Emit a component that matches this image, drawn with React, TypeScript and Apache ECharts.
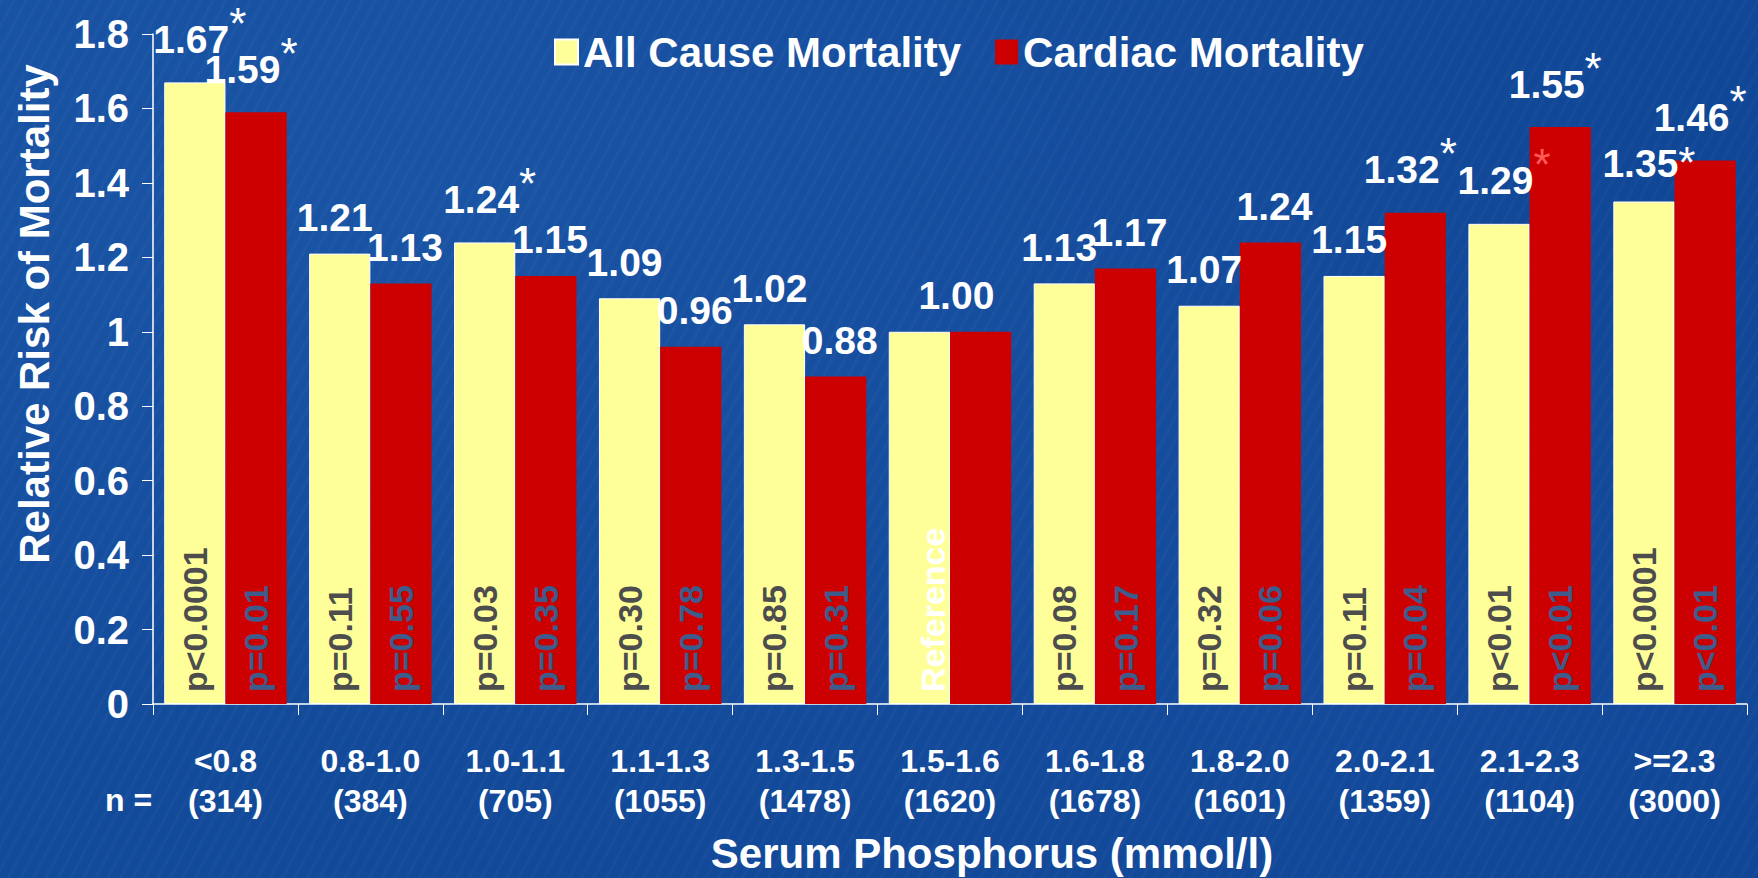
import React, { useEffect, useRef } from 'react';
import * as echarts from 'echarts';

const FONT = '"Liberation Sans", Arial, Helvetica, sans-serif';

const categories = ['<0.8', '0.8-1.0', '1.0-1.1', '1.1-1.3', '1.3-1.5', '1.5-1.6', '1.6-1.8', '1.8-2.0', '2.0-2.1', '2.1-2.3', '>=2.3'];
const counts = ['314', '384', '705', '1055', '1478', '1620', '1678', '1601', '1359', '1104', '3000'];
const allCause = [1.67, 1.21, 1.24, 1.09, 1.02, 1.0, 1.13, 1.07, 1.15, 1.29, 1.35];
const cardiac = [1.59, 1.13, 1.15, 0.96, 0.88, 1.0, 1.17, 1.24, 1.32, 1.55, 1.46];
const allCauseP = ['p<0.0001', 'p=0.11', 'p=0.03', 'p=0.30', 'p=0.85', 'Reference', 'p=0.08', 'p=0.32', 'p=0.11', 'p<0.01', 'p<0.0001'];
const cardiacP = ['p=0.01', 'p=0.55', 'p=0.35', 'p=0.78', 'p=0.31', '', 'p=0.17', 'p=0.06', 'p=0.04', 'p<0.01', 'p<0.01'];
// significance marks: hi = raised asterisk, hr = raised red asterisk, md = asterisk level with the number top
const allCauseStar = ['hi', '', 'hi', '', '', '', '', '', '', 'hr', 'md'];
const cardiacStar = ['hi', '', '', '', '', '', '', '', 'hi', 'hi', 'hi'];
const yMin = 0;
const yMax = 1.8;
const yStep = 0.2;

const YELLOW = '#FFFF99';
const RED = '#CC0000';

const starBase = { fontSize: 44, fontFamily: FONT, fontWeight: 'normal' };
const rich: any = {
  v: { fontSize: 39, fontWeight: 'bold', color: '#ffffff', fontFamily: FONT, lineHeight: 40 },
  hi: { ...starBase, color: '#ffffff', lineHeight: 20, padding: [0, 0, 32, 0] },
  hr: { ...starBase, color: '#ff5a5a', lineHeight: 20, padding: [0, 0, 32, 0] },
  md: { ...starBase, color: '#ffffff', lineHeight: 40, padding: [0, 0, 2, 0] },
};

function valueText(v: number, star: string) {
  const s = v.toFixed(2);
  return star ? `{v|${s}}{${star}|*}` : `{v|${s}}`;
}

export default function App() {
  const ref = useRef<HTMLDivElement>(null);
  useEffect(() => {
    document.body.style.margin = '0';
    if (!ref.current) return;
    const chart = echarts.init(ref.current, undefined, { renderer: 'svg' });
    const refIdx = allCauseP.indexOf('Reference');

    const pLabelBase = {
      show: true,
      position: 'insideBottom',
      rotate: 90,
      align: 'left',
      verticalAlign: 'middle',
      distance: 12,
      fontSize: 34,
      fontWeight: 'bold',
      fontFamily: FONT,
    };

    const dist = (s: string) => (s === 'hi' || s === 'hr' ? 23 : s === 'md' ? 18 : 16);

    const yellowData = allCause.map((v, i) =>
      i === refIdx ? { value: v, label: { color: '#ffffff', offset: [0, 14] } } : { value: v }
    );
    const yellowTop = allCause.map((v, i) => {
      const star = allCauseStar[i];
      const dx = i === refIdx ? 37 : star ? 5 : -5;
      return { value: 0, label: { offset: [dx, 0], distance: dist(star) } };
    });
    const redTop = cardiac.map((v, i) => {
      const star = cardiacStar[i];
      const dx = star ? -5 : 4;
      return { value: 0, label: { offset: [dx, 0], distance: dist(star) } };
    });

    const topLabel = (vals: number[], stars: string[], hideIdx: number) => ({
      show: true,
      position: 'top',
      distance: 16,
      rich,
      formatter: (p: any) => (p.dataIndex === hideIdx ? '' : valueText(vals[p.dataIndex], stars[p.dataIndex])),
    });

    const option: any = {
      animation: false,
      backgroundColor: 'transparent',
      textStyle: { fontFamily: FONT },
      grid: { left: 153, right: 11, top: 34, bottom: 174, containLabel: false, outerBoundsMode: 'none' },
      legend: {
        data: ['All Cause Mortality', 'Cardiac Mortality'],
        left: 549,
        top: 26,
        icon: 'rect',
        itemWidth: 23,
        itemHeight: 25,
        itemGap: 34,
        textStyle: { color: '#ffffff', fontSize: 42, fontWeight: 'bold', fontFamily: FONT },
      },
      graphic: [
        {
          type: 'text',
          left: 105,
          top: 784,
          style: { text: 'n =', fill: '#ffffff', font: `bold 32px ${FONT}` },
        },
      ],
      xAxis: {
        type: 'category',
        data: categories,
        axisLine: { lineStyle: { color: '#ffffff', width: 1.5 } },
        axisTick: { show: true, length: 11, lineStyle: { color: '#ffffff', width: 1 } },
        axisLabel: {
          interval: 0,
          color: '#ffffff',
          fontSize: 32,
          fontWeight: 'bold',
          fontFamily: FONT,
          lineHeight: 40,
          margin: 37,
          formatter: (v: string, i: number) => `${v}\n(${counts[i]})`,
        },
        name: 'Serum Phosphorus (mmol/l)',
        nameLocation: 'middle',
        nameGap: 128,
        nameTextStyle: { color: '#ffffff', fontSize: 42, fontWeight: 'bold', fontFamily: FONT, padding: [0, 0, 0, 84] },
      },
      yAxis: {
        type: 'value',
        min: yMin,
        max: yMax,
        interval: yStep,
        splitLine: { show: false },
        axisLine: { show: true, lineStyle: { color: '#ffffff', width: 1.5 } },
        axisTick: { show: true, length: 11, lineStyle: { color: '#ffffff', width: 1 } },
        axisLabel: {
          color: '#ffffff',
          fontSize: 40,
          fontWeight: 'bold',
          fontFamily: FONT,
          margin: 24,
          padding: [8, 0, 0, 0],
          formatter: (v: number) => String(Math.round(v * 10) / 10),
        },
        name: 'Relative Risk of Mortality',
        nameLocation: 'middle',
        nameGap: 98,
        nameTextStyle: { color: '#ffffff', fontSize: 42, fontWeight: 'bold', fontFamily: FONT, padding: [0, 0, 0, 110] },
      },
      series: [
        {
          name: 'All Cause Mortality',
          type: 'bar',
          stack: 'all',
          barGap: '0%',
          barCategoryGap: '15.5%',
          data: yellowData,
          itemStyle: { color: YELLOW, borderColor: '#ffffff', borderWidth: 1 },
          label: { ...pLabelBase, color: '#4D4D4D', formatter: (p: any) => allCauseP[p.dataIndex] },
        },
        {
          name: 'allTop',
          type: 'bar',
          stack: 'all',
          data: yellowTop,
          itemStyle: { color: 'transparent', borderWidth: 0 },
          label: topLabel(allCause, allCauseStar, -1),
        },
        {
          name: 'Cardiac Mortality',
          type: 'bar',
          stack: 'card',
          data: cardiac,
          itemStyle: { color: RED },
          label: { ...pLabelBase, color: '#3D5C8C', formatter: (p: any) => cardiacP[p.dataIndex] },
        },
        {
          name: 'cardTop',
          type: 'bar',
          stack: 'card',
          data: redTop,
          itemStyle: { color: 'transparent', borderWidth: 0 },
          label: topLabel(cardiac, cardiacStar, refIdx),
        },
      ],
    };
    chart.setOption(option);
    return () => chart.dispose();
  }, []);

  return (
    <div
      ref={ref}
      style={{
        width: 1758,
        height: 878,
        background:
          'repeating-linear-gradient(118deg, rgba(255,255,255,0.025) 0px, rgba(255,255,255,0.025) 3px, rgba(0,0,0,0) 3px, rgba(0,0,0,0) 11px), radial-gradient(ellipse at 25% 25%, rgba(50,110,195,0.22), rgba(0,0,0,0) 60%), radial-gradient(ellipse at 80% 75%, rgba(40,100,185,0.18), rgba(0,0,0,0) 55%), linear-gradient(135deg, #154f9f 0%, #124999 50%, #0e4393 100%)',
      }}
    />
  );
}
